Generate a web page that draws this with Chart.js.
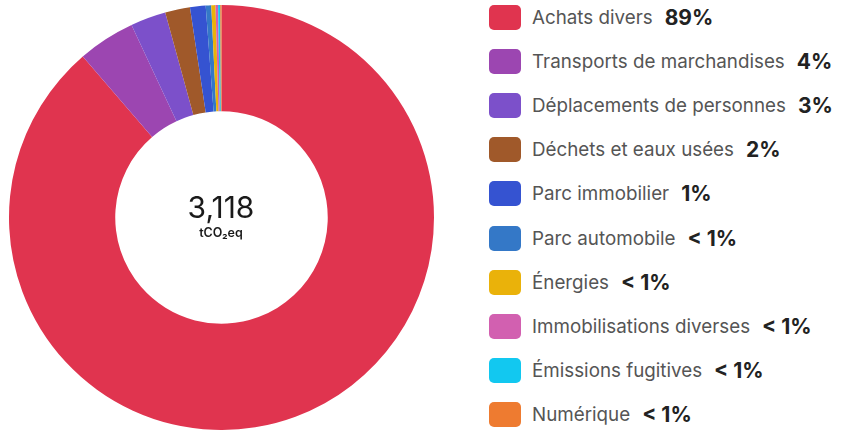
<!DOCTYPE html>
<html>
<head>
<meta charset="utf-8">
<script src="https://cdn.jsdelivr.net/npm/chart.js@4"></script>
<style>
    body { margin: 0; background: #fff; font-family: Inter, "Noto Sans", sans-serif; }
    #wrap { position: relative; width: 852px; height: 432px; overflow: hidden; }
    #chartBox { position: absolute; left: 9px; top: 5px; width: 425px; height: 425px; }
    #center { position: absolute; left: 121px; top: 191px; width: 200px; text-align: center; color: #1a1a1a; pointer-events: none; }
    #center .total { font-size: 30px; line-height: 32px; }
    #center .unit { font-size: 12.5px; font-weight: 600; line-height: 14px; margin-top: 3px; }
    #legend { position: absolute; left: 489px; top: -5px; list-style: none; margin: 0; padding: 0; }
    #legend li { display: flex; align-items: center; height: 44.2px; }
    #legend .box { width: 32px; height: 25px; border-radius: 5px; margin-right: 11px; flex: none; }
    #legend .name { color: #555; font-size: 18.8px; }
    #legend .pct { color: #222; font-size: 21px; font-weight: 700; margin-left: 12px; }
</style>
</head>
<body>
<div id="wrap">
    <div id="chartBox"><canvas id="donut"></canvas></div>
    <div id="center"><div class="total" id="totalText"></div><div class="unit">tCO₂eq</div></div>
    <ul id="legend"></ul>
</div>
<script>
const categories = [
    "Achats divers",
    "Transports de marchandises",
    "Déplacements de personnes",
    "Déchets et eaux usées",
    "Parc immobilier",
    "Parc automobile",
    "Énergies",
    "Immobilisations diverses",
    "Émissions fugitives",
    "Numérique"
];
const emissions = [2765, 136, 84, 59, 37, 13, 10, 6, 5, 3];
const COLORS = [
    "#E0344F",
    "#9C46B1",
    "#7C50CA",
    "#A0592A",
    "#3553D1",
    "#3478C7",
    "#EAB20A",
    "#D260B0",
    "#12C8F0",
    "#EE7B30"
];

const total = emissions.reduce((a, b) => a + b, 0);
document.getElementById('totalText').textContent = total.toLocaleString('en-US');

function pctLabel(v) {
    const p = Math.round(v / total * 100);
    return p < 1 ? "< 1%" : p + "%";
}

const legend = document.getElementById('legend');
for (let i = 0; i < categories.length; i++) {
    const li = document.createElement('li');
    li.innerHTML = '<span class="box" style="background:' + COLORS[i] + '"></span>' +
        '<span class="name">' + categories[i] + '</span>' +
        '<span class="pct">' + pctLabel(emissions[i]) + '</span>';
    legend.appendChild(li);
}

new Chart(document.getElementById('donut'), {
    type: 'doughnut',
    data: {
        labels: categories,
        datasets: [{
            data: emissions,
            backgroundColor: COLORS,
            borderWidth: 0
        }]
    },
    options: {
        cutout: '50%',
        maintainAspectRatio: false,
        animation: false,
        layout: { padding: 0 },
        plugins: {
            legend: { display: false },
            tooltip: { enabled: false }
        }
    }
});
</script>
</body>
</html>
